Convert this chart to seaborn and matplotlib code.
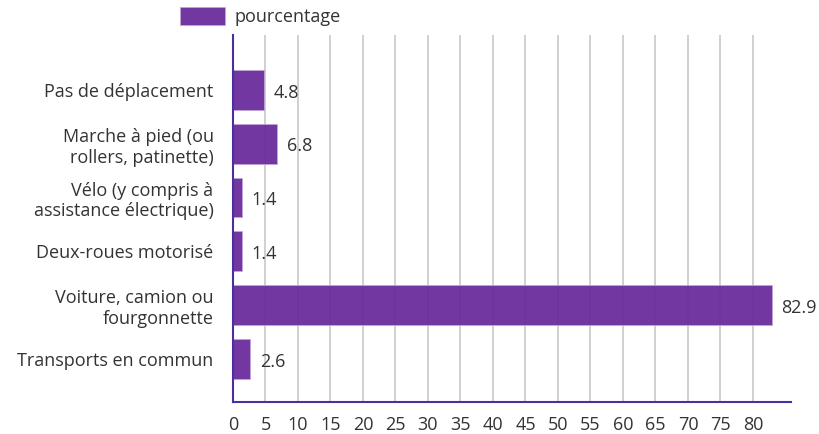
import matplotlib
matplotlib.use("Agg")
import matplotlib.pyplot as plt
import seaborn as sns
import pandas as pd

categories = ["Pas de déplacement", "Marche à pied (ou\nrollers, patinette)",
              "Vélo (y compris à\nassistance électrique)", "Deux-roues motorisé",
              "Voiture, camion ou\nfourgonnette", "Transports en commun"]
values = [4.8, 6.8, 1.4, 1.4, 82.9, 2.6]
series_name = "pourcentage"
xticks = list(range(0, 85, 5))

sns.set_theme(style="white")
plt.rcParams['font.family'] = ['Open Sans', 'DejaVu Sans']

df = pd.DataFrame({"cat": categories, "val": values, "serie": series_name})

fig = plt.figure(figsize=(8.2, 4.34), dpi=100)
ax = fig.add_axes([233/820, 32/434, (791-233)/820, (402-35)/434])

FS = 13
bar_color = "#6a2c9c"
sns.barplot(data=df, y="cat", x="val", hue="serie", palette=[bar_color],
            orient="h", width=0.74, ax=ax, zorder=3, saturation=1, alpha=0.95,
            edgecolor="#c0a6d6", linewidth=0.6)

ax.set_xlim(0, 85.85)
ax.set_ylim(5.8, -1.02)
ax.set_xticks(xticks)
ax.set_xticklabels([str(t) for t in xticks], fontsize=FS, color="#333333")
ax.tick_params(axis="y", labelsize=FS, labelcolor="#333333", length=0, pad=14)
ax.tick_params(axis="x", length=6, color="#c8c8c8", width=1.2, pad=4)
ax.xaxis.grid(True, color="#c8c8c8", linewidth=1.2, zorder=0)
ax.set_xlabel("")
ax.set_ylabel("")
for lab in ax.get_yticklabels():
    lab.set_horizontalalignment("right")
    lab.set_multialignment("right")

for s in ["top", "right"]:
    ax.spines[s].set_visible(False)
for s in ["left", "bottom"]:
    ax.spines[s].set_color("#4b2fa0")
    ax.spines[s].set_linewidth(1.5)
    ax.spines[s].set_zorder(4)

for i, v in enumerate(values):
    ax.text(v + 1.5, i + 0.05, f"{v}", va="center", ha="left", fontsize=FS, color="#333333")

leg = ax.legend(loc="lower left", bbox_to_anchor=(-0.115, 0.995), frameon=False,
                fontsize=FS, handlelength=2.5, handleheight=1.15, handletextpad=0.55,
                borderaxespad=0.2)
for t in leg.get_texts():
    t.set_color("#333333")

fig.savefig("out.png", dpi=100)
